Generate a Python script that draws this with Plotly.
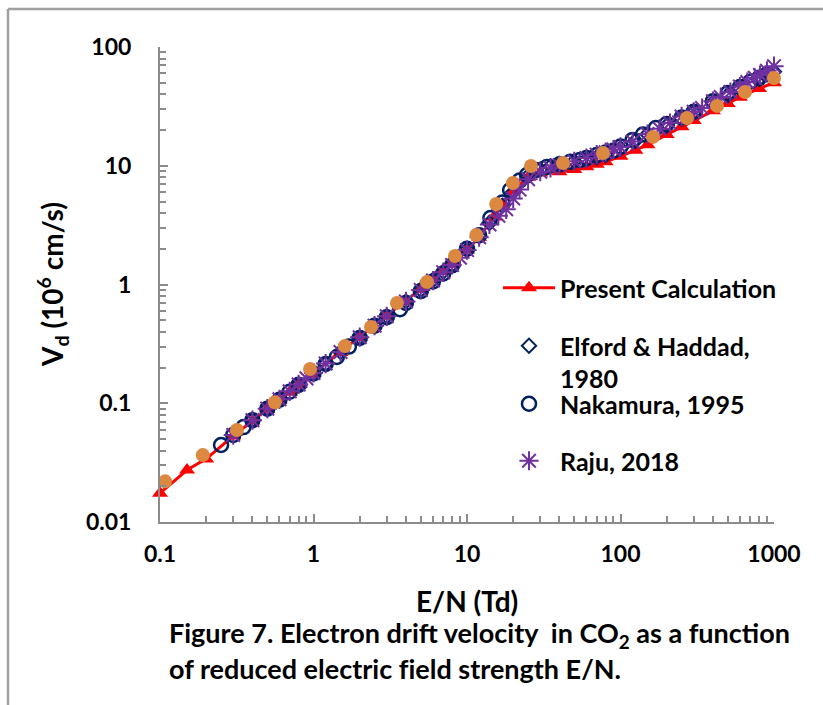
import plotly.graph_objects as go

# ---------------- data ----------------
present_x = [0.1, 0.15, 0.2, 0.3, 0.4, 0.5, 0.6, 0.7, 0.8, 1, 1.5, 2, 3, 4, 5, 6, 7, 8, 10, 12, 15, 17,
             20, 25, 30, 40, 50, 60, 70, 80, 100, 125, 150, 200, 250, 300, 400, 500, 600, 800, 1000]
present_y = [0.0175, 0.0274, 0.034, 0.053, 0.071, 0.089, 0.106, 0.124, 0.142, 0.178, 0.268, 0.358, 0.54,
             0.72, 0.91, 1.10, 1.29, 1.49, 1.95, 2.5, 3.7, 4.7, 6.2, 8.0, 8.7, 8.9, 9.3, 9.8, 10.3, 10.8,
             12.0, 13.5, 15.0, 18.3, 21.3, 24.0, 29.0, 33.5, 37.8, 44.8, 50.0]

elford_x = [0.4, 0.5, 0.6, 0.8, 1, 1.2, 1.5, 2, 2.5, 3, 4, 5, 6, 7, 8, 10, 12, 14, 17, 20, 25, 30, 35,
            40, 50, 60, 70, 80, 100, 125, 150, 200, 250, 300, 400, 500, 600, 800, 1000]
elford_y = [0.072, 0.090, 0.108, 0.143, 0.179, 0.215, 0.27, 0.36, 0.45, 0.54, 0.72, 0.90, 1.09, 1.28,
            1.47, 1.96, 2.55, 3.3, 4.6, 6.0, 8.2, 9.3, 9.9, 10.3, 10.9, 11.3, 11.8, 12.3, 14.0, 16.2,
            18.4, 21.8, 25.0, 28.0, 34.0, 39.5, 45.0, 54.0, 62.0]

nakamura_x = [0.25, 0.3, 0.35, 0.4, 0.5, 0.6, 0.7, 0.8, 1, 1.2, 1.42, 1.7, 2, 2.5, 3, 3.66, 4, 5, 6, 7,
              8, 10, 12, 14.2, 17, 19.1, 22, 24.6, 28, 33.2, 40, 47, 54.5, 60, 70, 80, 90, 100, 120,
              140, 170, 200, 250, 300, 400, 500, 600, 700, 800, 900]
nakamura_y = [0.0445, 0.054, 0.063, 0.072, 0.090, 0.107, 0.125, 0.143, 0.178, 0.214, 0.245, 0.30, 0.355,
              0.45, 0.53, 0.62, 0.70, 0.88, 1.06, 1.24, 1.45, 2.0, 2.6, 3.63, 4.9, 6.25, 7.5, 8.36, 9.2,
              9.77, 10.3, 10.8, 11.2, 11.6, 12.3, 12.9, 13.4, 14.5, 16.5, 18.3, 20.8, 22.5, 25.5, 28.5,
              35.0, 41.0, 46.0, 51.0, 55.0, 59.0]

raju_x = [0.3, 0.4, 0.5, 0.6, 0.7, 0.8, 0.9, 1, 1.2, 1.5, 2, 2.5, 3, 4, 5, 6, 7, 8, 9, 10, 12, 14, 16,
          18, 20, 22, 25, 30, 35, 40, 50, 60, 70, 80, 90, 100, 120, 150, 180, 210, 250, 300, 340, 400,
          450, 520, 600, 670, 750, 810, 900, 1000]
raju_y = [0.054, 0.072, 0.090, 0.108, 0.126, 0.144, 0.162, 0.18, 0.216, 0.27, 0.36, 0.45, 0.54, 0.72,
          0.90, 1.08, 1.27, 1.46, 1.68, 1.95, 2.5, 3.2, 3.8, 4.3, 5.3, 6.3, 7.7, 8.9, 9.6, 10.1, 10.9,
          11.6, 12.4, 13.0, 13.7, 14.4, 16.0, 18.5, 20.5, 22.9, 26.0, 28.5, 30.6, 35.0, 37.9, 41.8,
          46.5, 50.6, 55.0, 58.0, 63.0, 69.0]

orange_x = [0.108, 0.19, 0.317, 0.56, 0.95, 1.6, 2.37, 3.5, 5.49, 8.35, 11.5, 15.5, 19.9, 26.1, 42.2,
            76.9, 163, 271, 425, 647, 1000]
orange_y = [0.022, 0.0366, 0.0596, 0.102, 0.194, 0.303, 0.438, 0.698, 1.05, 1.74, 2.61, 4.76, 7.16,
            9.95, 10.55, 12.8, 17.5, 25.2, 31.9, 41.8, 54.8]

# ---------------- styling ----------------
FONT = "Lato"
RED = "#FF0000"
NAVY = "#002060"
PURPLE = "#7030A0"
ORANGE = "#DB8840"
AXIS = "#8C8C8C"

L, R, T, B = 160, 49, 47, 183
W, H = 823, 705
PW, PH = W - L - R, H - T - B


def px_x(p):
    return (p - L) / PW


def px_y(p):
    return (H - B - p) / PH


fig = go.Figure()

fig.add_trace(go.Scatter(
    x=present_x, y=present_y, mode="lines+markers", name="Present Calculation",
    line=dict(color=RED, width=3),
    marker=dict(symbol="triangle-up", size=14, color=RED),
    cliponaxis=False, legend="legend"))

fig.add_trace(go.Scatter(
    x=elford_x, y=elford_y, mode="markers", name="Elford & Haddad,<br>1980",
    marker=dict(symbol="diamond-open", size=11, color=NAVY, line=dict(width=2, color=NAVY)),
    cliponaxis=False, legend="legend2"))

fig.add_trace(go.Scatter(
    x=nakamura_x, y=nakamura_y, mode="markers", name="Nakamura, 1995",
    marker=dict(symbol="circle-open", size=14, color=NAVY, line=dict(width=2.5, color=NAVY)),
    cliponaxis=False, legend="legend3"))

fig.add_trace(go.Scatter(
    x=raju_x, y=raju_y, mode="markers", name="Raju, 2018",
    marker=dict(symbol="asterisk-open", size=16, color=PURPLE, line=dict(width=2, color=PURPLE)),
    cliponaxis=False, legend="legend4"))

fig.add_trace(go.Scatter(
    x=orange_x, y=orange_y, mode="markers", name="orange", showlegend=False,
    marker=dict(symbol="circle", size=14, color=ORANGE),
    cliponaxis=False))

legend_font = dict(family=FONT, size=25, color="black", weight="bold")
leg_common = dict(font=legend_font, bgcolor="rgba(0,0,0,0)", borderwidth=0,
                  xanchor="left", yanchor="middle", itemwidth=52, valign="top")
lx = px_x(498)

axis_common = dict(
    type="log", showline=True, linecolor=AXIS, linewidth=2, mirror=False,
    showgrid=False, zeroline=False, ticks="inside", ticklen=8, tickwidth=1.5, tickcolor=AXIS,
    tickfont=dict(family=FONT, size=23, color="black", weight="bold"),
    minor=dict(ticks="inside", ticklen=6, tickwidth=1.5, tickcolor=AXIS, dtick="D1", showgrid=False),
    tickmode="linear", tick0=0, dtick=1, exponentformat="none",
)

fig.update_layout(
    width=W, height=H,
    margin=dict(l=L, r=R, t=T, b=B, pad=0),
    paper_bgcolor="white", plot_bgcolor="white",
    font=dict(family=FONT, color="black"),
    xaxis=dict(range=[-1, 3], ticklabelstandoff=10, **axis_common),
    yaxis=dict(range=[-2, 2], ticklabelstandoff=22, **axis_common),
    legend=dict(x=lx, y=px_y(288), **leg_common),
    legend2=dict(x=lx, y=px_y(362), **leg_common),
    legend3=dict(x=lx, y=px_y(404), **leg_common),
    legend4=dict(x=lx, y=px_y(461), **leg_common),
    showlegend=True,
)

ann_font = dict(family=FONT, size=28, color="black", weight="bold")
cap_font = dict(family=FONT, size=27, color="black", weight="bold")
fig.add_annotation(text="V<sub>d</sub> (10<sup>6</sup> cm/s)", xref="paper", yref="paper",
                   x=px_x(52), y=px_y(285), textangle=-90, showarrow=False,
                   xanchor="center", yanchor="middle", font=ann_font)
fig.add_annotation(text="E/N (Td)", xref="paper", yref="paper",
                   x=px_x(467), y=px_y(601), showarrow=False,
                   xanchor="center", yanchor="middle", font=ann_font)
fig.add_annotation(text="Figure 7. Electron drift velocity  in CO<sub>2</sub> as a function",
                   xref="paper", yref="paper", x=px_x(167), y=px_y(634), showarrow=False,
                   xanchor="left", yanchor="middle", font=cap_font)
fig.add_annotation(text="of reduced electric f\u200cield strength E/N.",
                   xref="paper", yref="paper", x=px_x(167), y=px_y(668), showarrow=False,
                   xanchor="left", yanchor="middle", font=cap_font)

# outer frame (top and left edges visible)
fig.add_shape(type="line", xref="paper", yref="paper",
              x0=px_x(8), y0=px_y(9), x1=px_x(830), y1=px_y(9),
              line=dict(color="#A0A0A0", width=2.5))
fig.add_shape(type="line", xref="paper", yref="paper",
              x0=px_x(8), y0=px_y(9), x1=px_x(8), y1=px_y(710),
              line=dict(color="#A0A0A0", width=2.5))

fig.write_html("out.html")
